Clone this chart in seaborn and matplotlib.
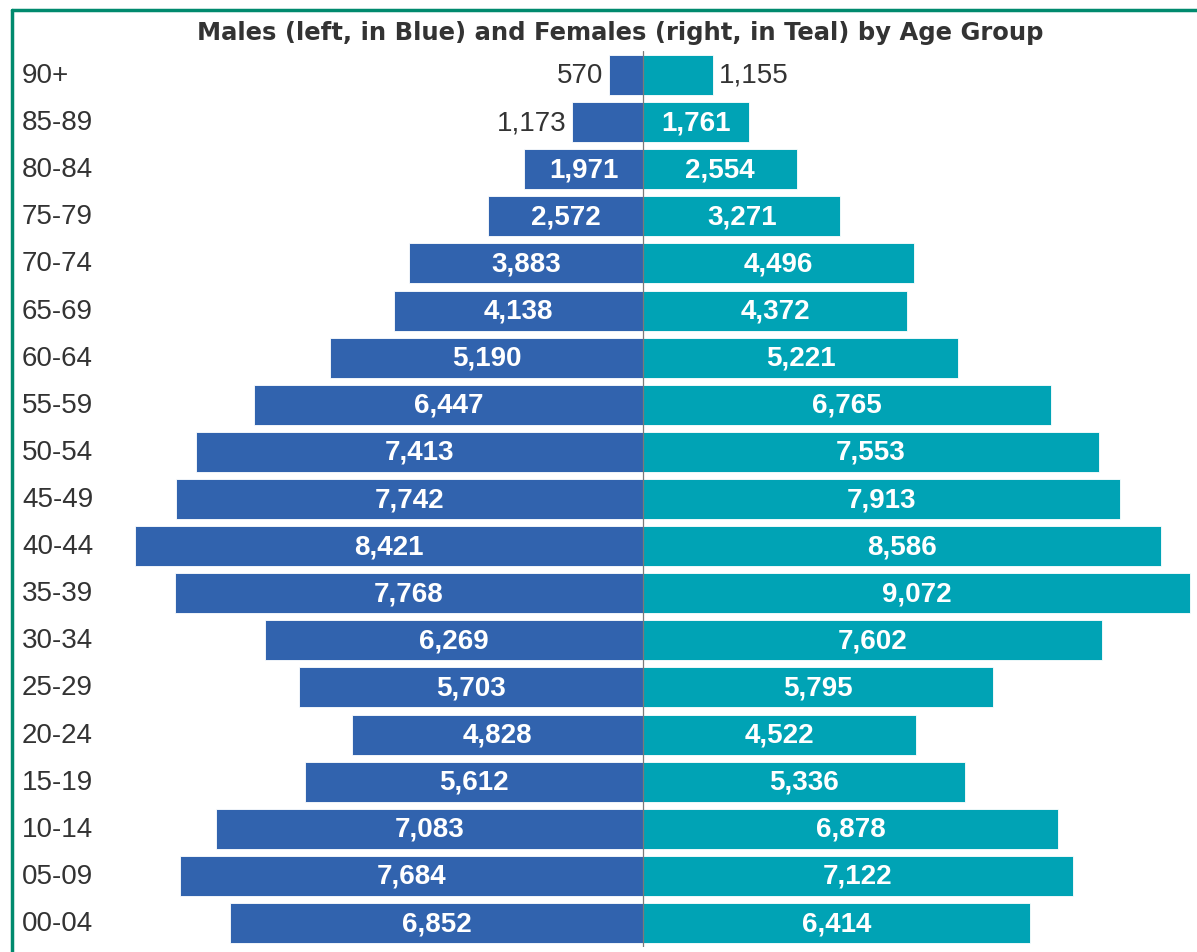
import pandas as pd
import matplotlib.pyplot as plt
import seaborn as sns
from matplotlib.lines import Line2D
from matplotlib.transforms import blended_transform_factory

ages = ["90+", "85-89", "80-84", "75-79", "70-74", "65-69", "60-64", "55-59", "50-54",
        "45-49", "40-44", "35-39", "30-34", "25-29", "20-24", "15-19", "10-14", "05-09", "00-04"]
males = [570, 1173, 1971, 2572, 3883, 4138, 5190, 6447, 7413,
         7742, 8421, 7768, 6269, 5703, 4828, 5612, 7083, 7684, 6852]
females = [1155, 1761, 2554, 3271, 4496, 4372, 5221, 6765, 7553,
           7913, 8586, 9072, 7602, 5795, 4522, 5336, 6878, 7122, 6414]

blue = "#3163ae"
teal = "#00a3b5"

df = pd.concat([
    pd.DataFrame({"age": ages, "value": [-m for m in males], "sex": "Male"}),
    pd.DataFrame({"age": ages, "value": females, "sex": "Female"}),
])

sns.set_style("white")
plt.rcParams['font.family'] = ['Liberation Sans', 'DejaVu Sans']

fig = plt.figure(figsize=(11.97, 9.53), dpi=100)
ax = fig.add_axes([130 / 1197, 1 - 947.6 / 953, (1195 - 130) / 1197, (947.6 - 52.4) / 953])

sns.barplot(data=df, y="age", x="value", hue="sex", order=ages, dodge=False,
            palette={"Male": blue, "Female": teal}, orient="h", width=0.85,
            saturation=1, edgecolor="white", linewidth=0.6, legend=False, ax=ax)

ax.set_xlim(-8510, 9150)
ax.set_ylim(18.5, -0.5)
ax.axvline(0, color="#7a7a7a", lw=0.9, zorder=5)
ax.set_xlabel("")
ax.set_ylabel("")
ax.set_xticks([])
ax.set_yticks([])
for s in ax.spines.values():
    s.set_visible(False)

# value labels: inside (white, bold) unless the bar is too short
for i, (m, f) in enumerate(zip(males, females)):
    if m >= 1500:
        ax.text(-m / 2, i, f"{m:,}", ha="center", va="center", color="white",
                fontsize=20, fontweight="bold")
    else:
        ax.text(-m - 100, i, f"{m:,}", ha="right", va="center", color="#333333", fontsize=20)
    if f >= 1500:
        ax.text(f / 2, i, f"{f:,}", ha="center", va="center", color="white",
                fontsize=20, fontweight="bold")
    else:
        ax.text(f + 100, i, f"{f:,}", ha="left", va="center", color="#333333", fontsize=20)

# age group labels on the left
tr = blended_transform_factory(fig.transFigure, ax.transData)
for i, a in enumerate(ages):
    fig.text(22 / 1197, i, a, transform=tr, ha="left", va="center",
             color="#333333", fontsize=20)

fig.text(620 / 1197, 1 - 33 / 953,
         "Males (left, in Blue) and Females (right, in Teal) by Age Group",
         ha="center", va="center", fontsize=17.5, fontweight="bold", color="#333333",
         family="DejaVu Sans")

# green frame
fig.add_artist(Line2D([12 / 1197, 1], [1 - 11 / 953, 1 - 11 / 953],
                      transform=fig.transFigure, color="#008a6e", lw=2.5))
fig.add_artist(Line2D([12 / 1197, 12 / 1197], [0, 1 - 11 / 953],
                      transform=fig.transFigure, color="#008a6e", lw=2.5))

fig.savefig("out.png", dpi=100)
